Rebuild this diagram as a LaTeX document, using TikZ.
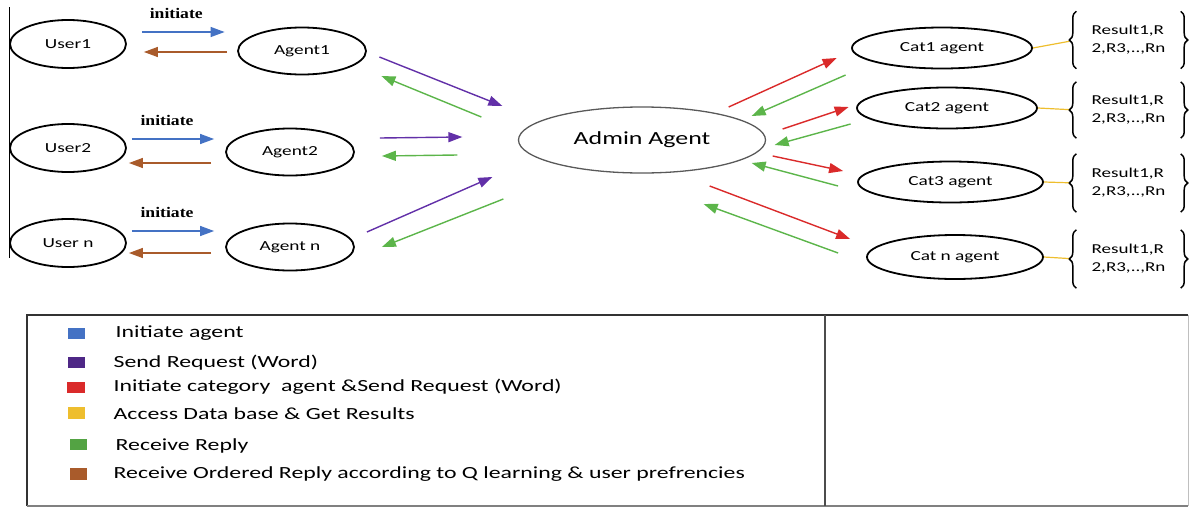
\documentclass[tikz,border=0pt]{standalone}
\usepackage{fontspec}
\setmainfont{Carlito}
\newfontfamily\lbl{Carlito}[FakeStretch=1.4]
\newfontfamily\serlbl{Liberation Serif}[FakeStretch=1.2]
\usetikzlibrary{shapes.geometric, arrows.meta, calc, decorations.pathreplacing}
\definecolor{initblue}{HTML}{4472C4}
\definecolor{sendpurple}{HTML}{6230A8}
\definecolor{catred}{HTML}{DA2A2A}
\definecolor{dbyellow}{HTML}{EEBE2E}
\definecolor{replygreen}{HTML}{5CB54A}
\definecolor{orderbrown}{HTML}{A95B2B}
\tikzset{
  el/.style={ellipse, draw, line width=1.8pt, inner sep=0pt, font=\lbl\fontsize{13.8}{16}\selectfont},
  usr/.style={el, minimum width=116, minimum height=48},
  agt/.style={el, minimum width=128, minimum height=47},
  cat/.style={el, minimum width=180, minimum height=41},
  adm/.style={ellipse, draw=black!65, line width=1.3pt, inner sep=0pt, minimum width=247, minimum height=66, font=\lbl\fontsize{18.5}{22}\selectfont},
  res/.style={inner sep=0pt, minimum width=103, minimum height=56, align=left, font=\lbl\fontsize{13.6}{18}\selectfont},
  initarr/.style={->, draw=initblue},
  sendarr/.style={->, draw=sendpurple},
  catarr/.style={->, draw=catred},
  replyarr/.style={->, draw=replygreen},
  orderarr/.style={->, draw=orderbrown},
  dbline/.style={draw=dbyellow, line width=1.2pt, shorten >=7pt},
  brc/.style={decorate, decoration={brace, amplitude=7pt}, line width=1.5pt},
  initlbl/.style={font=\serlbl\bfseries\fontsize{14.7}{16}\selectfont, above=9pt},
  leg/.style={anchor=west, inner sep=0pt, font=\lbl\fontsize{17}{20}\selectfont}
}
\begin{document}
\begin{tikzpicture}[x=1pt, y=-1pt, line width=1.4pt, >={Triangle[length=14pt,width=10pt]}]
\useasboundingbox (0,0) rectangle (1189,509);
\draw[line width=1pt] (9,7) -- (9,258);

% users and their agents
\node[usr] (u1) at (68,44) {User1};
\node[usr] (u2) at (68,148) {User2};
\node[usr] (un) at (68,243) {User n};
\node[agt] (a1) at (302,51) {Agent1};
\node[agt] (a2) at (290,152) {Agent2};
\node[agt] (an) at (290,247) {Agent n};

\draw[initarr] ($(u1.east)+(15,-12)$) -- node[initlbl, xshift=-7pt] {initiate} ($(a1.west)+(-12.5,-19)$);
\draw[orderarr] ($(a1.west)+(-10,1)$) -- ($(u1.east)+(17,8)$);
\draw[initarr] ($(u2.east)+(5,-9)$) -- node[initlbl, xshift=-6pt] {initiate} ($(a2.west)+(-11,-13)$);
\draw[orderarr] ($(a2.west)+(-14,11)$) -- ($(u2.east)+(2,15)$);
\draw[initarr] ($(un.east)+(5,-12)$) -- node[initlbl, xshift=-6pt] {initiate} ($(an.west)+(-11,-16)$);
\draw[orderarr] ($(an.west)+(-14,6)$) -- ($(un.east)+(2,10)$);

% admin
\node[adm] (ad) at (642,140) {Admin Agent};

\draw[sendarr] ($(a1.east)+(12.5,6)$) -- ($(ad.west)+(-15.5,-34)$);
\draw[replyarr] ($(ad.west)+(-36.5,-23)$) -- ($(a1.east)+(14.5,25)$);
\draw[sendarr] ($(a2.east)+(25,-14)$) -- ($(ad.west)+(-55.5,-3)$);
\draw[replyarr] ($(ad.west)+(-60.5,15)$) -- ($(a2.east)+(27,4)$);
\draw[sendarr] ($(an.east)+(12,-15)$) -- ($(ad.west)+(-25.5,37)$);
\draw[replyarr] ($(ad.west)+(-14.5,59)$) -- ($(an.east)+(27,0)$);

% category agents
\node[cat] (c1) at (942,48) {Cat1 agent};
\node[cat] (c2) at (947,108) {Cat2 agent};
\node[cat, minimum width=185] (c3) at (950.5,182) {Cat3 agent};
\node[cat, minimum width=176, minimum height=44] (cn) at (955,257) {Cat n agent};

\draw[catarr] ($(ad.east)+(-37.5,-33)$) -- ($(c1.west)+(-14.5,10)$);
\draw[replyarr] ($(c1.west)+(-5.5,27)$) -- ($(ad.east)+(-14.5,-24)$);
\draw[catarr] ($(ad.east)+(16.5,-11)$) -- ($(c2.west)+(-7.5,-1)$);
\draw[replyarr] ($(c2.west)+(-5.5,16)$) -- ($(ad.east)+(8.5,5)$);
\draw[catarr] ($(ad.east)+(6.5,16)$) -- ($(c3.west)+(-14,-11)$);
\draw[replyarr] ($(c3.west)+(-19,4)$) -- ($(ad.east)+(-14.5,23)$);
\draw[catarr] ($(ad.east)+(-56.5,46)$) -- ($(cn.west)+(-16,-18)$);
\draw[replyarr] ($(cn.west)+(-28,-4)$) -- ($(ad.east)+(-62.5,64)$);

% results
\node[res] (r1) at (1128.5,40) {Result1,R\\2,R3,..,Rn};
\node[res, minimum height=55] (r2) at (1128.5,110) {Result1,R\\2,R3,..,Rn};
\node[res, minimum height=57] (r3) at (1128.5,183) {Result1,R\\2,R3,..,Rn};
\node[res, minimum height=57] (r4) at (1128.5,259) {Result1,R\\2,R3,..,Rn};

\draw[dbline] (c1.east) -- (r1.west);
\draw[dbline] (c2.east) -- (r2.west);
\draw[dbline] (c3.east) -- (r3.west);
\draw[dbline] (cn.east) -- (r4.west);

\draw[brc] (r1.south west) -- (r1.north west);
\draw[brc] (r1.north east) -- (r1.south east);
\draw[brc] (r2.south west) -- (r2.north west);
\draw[brc] (r2.north east) -- (r2.south east);
\draw[brc] (r3.south west) -- (r3.north west);
\draw[brc] (r3.north east) -- (r3.south east);
\draw[brc] (r4.south west) -- (r4.north west);
\draw[brc] (r4.north east) -- (r4.south east);

% legend
\draw[line width=1.2pt, black!80] (27,506) -- (27,315) -- (1188,315);
\draw[line width=0.8pt, black!25] (1188,315) -- (1188,506);
\draw[line width=2pt, black!50] (27,506) -- (1188,506);
\draw[line width=1.5pt, black!70] (825,315) -- (825,506);

\fill[initblue] (68,328) rectangle (85,339);
\fill[sendpurple!80!black] (68,357) rectangle (85,368);
\fill[catred] (67,382) rectangle (85,393);
\fill[dbyellow] (68,407) rectangle (85,419);
\fill[replygreen!90!black] (70,439) rectangle (87,450);
\fill[orderbrown] (70,468) rectangle (87,480);

\node[leg] (l1) at (115,333) {Initiate agent};
\node[leg] (l2) at (113,363) {Send Request (Word)};
\node[leg] (l3) at (113,387) {Initiate category\ \ agent \&Send Request (Word)};
\node[leg] (l4) at (113,414) {Access Data base \& Get Results};
\node[leg] (l5) at (115,446) {Receive Reply};
\node[leg] (l6) at (113,474) {Receive Ordered Reply according to Q learning \& user prefrencies};
\end{tikzpicture}
\end{document}
